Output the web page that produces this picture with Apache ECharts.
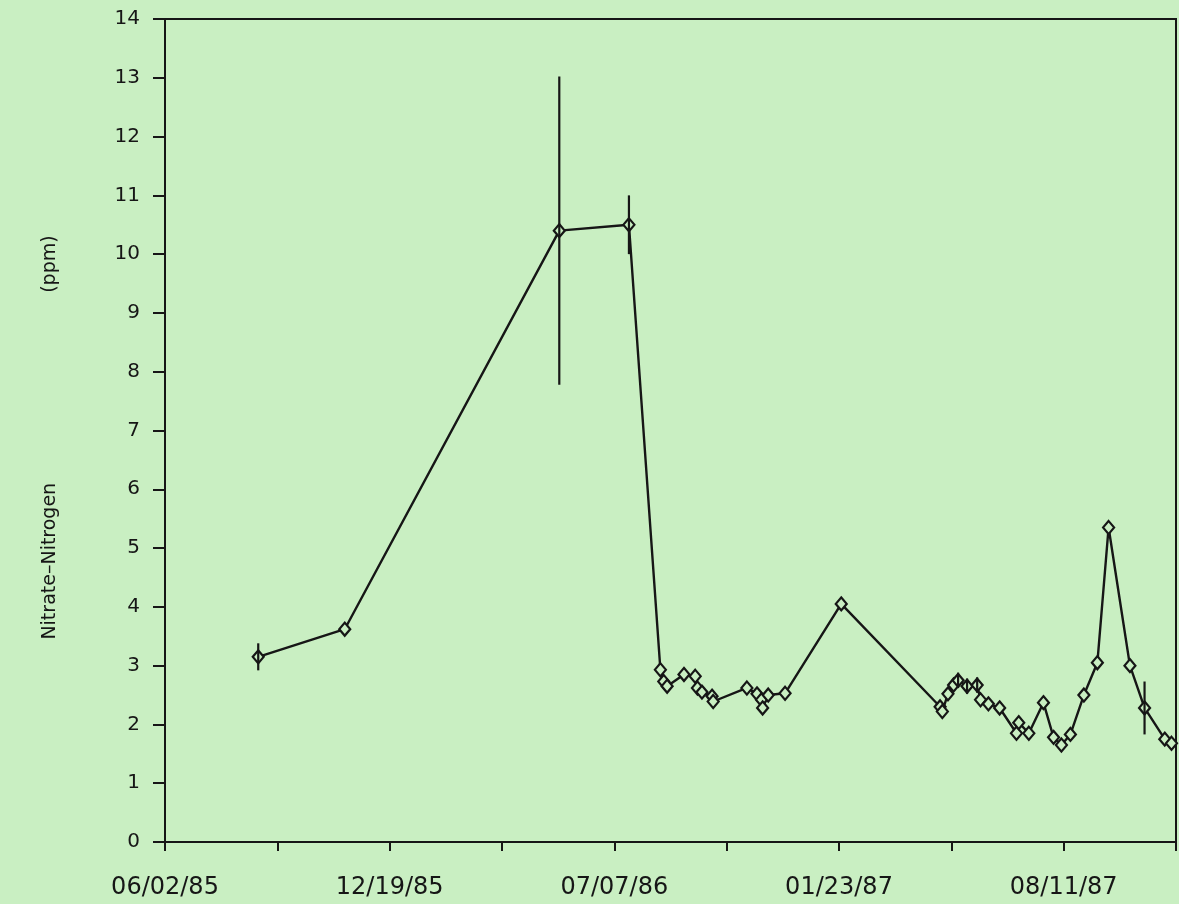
<!DOCTYPE html>
<html>
<head>
<meta charset="utf-8">
<script src="https://cdn.jsdelivr.net/npm/echarts@6/dist/echarts.min.js"></script>
<style>
html,body{margin:0;padding:0;background:#c9efc2;}
#chart{width:1179px;height:904px;}
</style>
</head>
<body>
<div id="chart"></div>
<script>
// Sampling dates (YYYY-MM-DD)
var sampleDates = [
  '1985-08-24','1985-11-09','1986-05-19','1986-07-20',
  '1986-08-17','1986-08-20','1986-08-23','1986-09-07','1986-09-17','1986-09-19',
  '1986-09-23','1986-10-02','1986-10-03','1986-11-02','1986-11-11','1986-11-15',
  '1986-11-16','1986-11-21','1986-12-06','1987-01-25',
  '1987-04-23','1987-04-25','1987-04-30','1987-05-05','1987-05-09','1987-05-17',
  '1987-05-26','1987-05-29','1987-06-05','1987-06-15','1987-06-30','1987-07-02',
  '1987-07-11','1987-07-24','1987-08-02','1987-08-09','1987-08-17','1987-08-29',
  '1987-09-10','1987-09-20','1987-10-09','1987-10-22','1987-11-09','1987-11-15'
];
// Nitrate-Nitrogen (ppm)
var nitrateValues = [
  3.15, 3.62, 10.4, 10.5,
  2.93, 2.73, 2.65, 2.85, 2.82, 2.62,
  2.55, 2.48, 2.39, 2.62, 2.52, 2.42,
  2.28, 2.50, 2.53, 4.05,
  2.30, 2.22, 2.52, 2.67, 2.75, 2.65,
  2.67, 2.42, 2.35, 2.28, 1.85, 2.03,
  1.85, 2.37, 1.78, 1.65, 1.83, 2.50,
  3.05, 5.35, 3.00, 2.28, 1.75, 1.68
];
// Error bar half-widths (0 = none shown)
var errorValues = [
  0.23, 0, 2.62, 0.5,
  0, 0, 0, 0, 0, 0,
  0, 0, 0, 0, 0, 0,
  0, 0, 0, 0,
  0, 0, 0, 0, 0.13, 0.13,
  0.13, 0, 0, 0, 0, 0,
  0, 0, 0, 0, 0, 0,
  0, 0, 0, 0.45, 0, 0
];
var axisStartDate = '1985-06-02';
var axisDays = 900;
var tickStepDays = 100;
var labelStepDays = 200;
var yTicks = {min: 0, max: 14, step: 1};

var DAY = 86400000;
function toUTC(s){var p=s.split('-');return Date.UTC(+p[0],+p[1]-1,+p[2]);}
var base = toUTC(axisStartDate);
function dayOffset(s){return Math.round((toUTC(s)-base)/DAY);}
function pad(n){return (n<10?'0':'')+n;}
function fmtDay(d){
  var dt=new Date(base+d*DAY);
  return pad(dt.getUTCMonth()+1)+'/'+pad(dt.getUTCDate())+'/'+pad(dt.getUTCFullYear()%100);
}

var lineData = sampleDates.map(function(s,i){return [dayOffset(s), nitrateValues[i]];});
var errData = [];
sampleDates.forEach(function(s,i){
  if(errorValues[i]>0) errData.push([dayOffset(s), nitrateValues[i]-errorValues[i], nitrateValues[i]+errorValues[i]]);
});

var bg = '#c9efc2';
var ink = '#161616';
var chart = echarts.init(document.getElementById('chart'));
chart.setOption({
  backgroundColor: bg,
  animation: false,
  grid: {left:165, right:3, top:19, bottom:62, show:true, borderColor:ink, borderWidth:2, backgroundColor:'transparent'},
  xAxis: {
    type:'value', min:0, max:axisDays, interval:tickStepDays,
    axisLine:{show:true, onZero:false, lineStyle:{color:ink, width:2}},
    axisTick:{show:true, inside:false, length:9, lineStyle:{color:ink, width:2}},
    splitLine:{show:false},
    axisLabel:{
      color:ink, fontSize:24, fontFamily:'DejaVu Sans', margin:34,
      showMaxLabel:true, showMinLabel:true,
      formatter:function(v){return (Math.round(v)%labelStepDays===0)?fmtDay(Math.round(v)):'';}
    }
  },
  yAxis: {
    type:'value', min:yTicks.min, max:yTicks.max, interval:yTicks.step,
    name:'{a|Nitrate\u2013Nitrogen}{b|(ppm)}', nameLocation:'middle', nameGap:105, nameRotate:90,
    nameTextStyle:{
      color:ink, fontSize:19, fontFamily:'DejaVu Sans',
      rich:{
        a:{color:ink, fontSize:19, fontFamily:'DejaVu Sans'},
        b:{color:ink, fontSize:19, fontFamily:'DejaVu Sans', padding:[0,14,0,190]}
      }
    },
    axisLine:{show:true, lineStyle:{color:ink, width:2}},
    axisTick:{show:true, inside:false, length:12, lineStyle:{color:ink, width:2}},
    splitLine:{show:false},
    axisLabel:{color:ink, fontSize:20, fontFamily:'DejaVu Sans', margin:25}
  },
  series: [
    {
      type:'line', data:lineData, showAllSymbol:true,
      symbol:'diamond', symbolSize:[11,13],
      lineStyle:{color:ink, width:2.4},
      itemStyle:{color:bg, borderColor:ink, borderWidth:2.2},
      z:3
    },
    {
      type:'custom', data:errData, z:4,
      renderItem:function(params, api){
        var p1 = api.coord([api.value(0), api.value(1)]);
        var p2 = api.coord([api.value(0), api.value(2)]);
        return {type:'line', shape:{x1:p1[0], y1:p1[1], x2:p2[0], y2:p2[1]}, style:{stroke:ink, lineWidth:2.2}};
      },
      encode:{x:0, y:[1,2]}
    }
  ]
});
</script>
</body>
</html>
